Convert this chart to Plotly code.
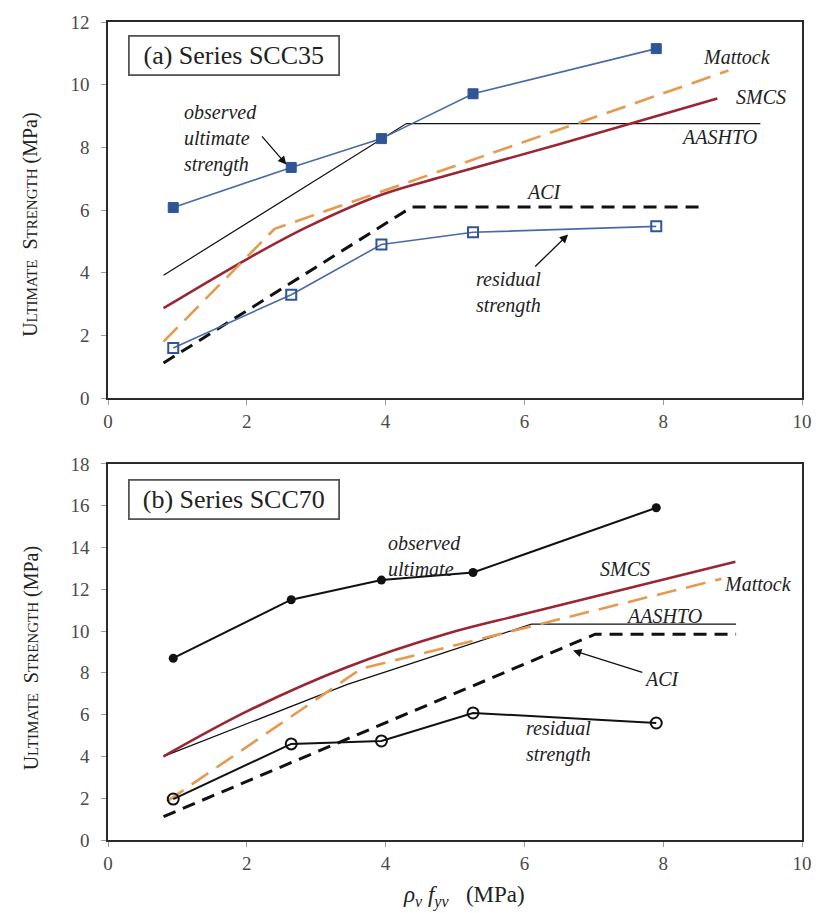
import plotly.graph_objects as go

# ---- specimen data (rho_v * f_yv in MPa, strengths in MPa) ----
rho_fy = [0.94, 2.64, 3.94, 5.26, 7.9]

scc35_ultimate = [6.08, 7.36, 8.28, 9.71, 11.15]
scc35_residual = [1.6, 3.3, 4.9, 5.29, 5.48]

scc70_ultimate = [8.7, 11.5, 12.44, 12.8, 15.9]
scc70_residual = [1.96, 4.6, 4.74, 6.08, 5.6]

# ---- design / model predictions ----
scc35_aashto_x = [0.8, 4.3, 9.4]
scc35_aashto_y = [3.92, 8.76, 8.76]
scc35_aci_x = [0.8, 4.38, 8.55]
scc35_aci_y = [1.12, 6.1, 6.1]
scc35_mattock_x = [0.8, 2.4, 8.94]
scc35_mattock_y = [1.8, 5.4, 10.45]
scc35_smcs_x = [0.8, 2.03, 2.88, 3.93, 4.88, 6.5, 8.78]
scc35_smcs_y = [2.87, 4.47, 5.47, 6.48, 7.1, 8.1, 9.56]

scc70_aashto_x = [0.8, 2.03, 3.45, 4.88, 6.1, 9.05]
scc70_aashto_y = [4.0, 5.6, 7.45, 9.0, 10.33, 10.33]
scc70_aci_x = [0.8, 7.02, 9.05]
scc70_aci_y = [1.12, 9.85, 9.85]
scc70_mattock_x = [0.85, 3.65, 8.84]
scc70_mattock_y = [1.85, 8.2, 12.5]
scc70_smcs_x = [0.8, 2.03, 3.45, 4.88, 6.04, 9.04]
scc70_smcs_y = [4.0, 6.2, 8.28, 9.87, 10.85, 13.32]

x_ticks = [0, 2, 4, 6, 8, 10]
y_ticks_a = [0, 2, 4, 6, 8, 10, 12]
y_ticks_b = [0, 2, 4, 6, 8, 10, 12, 14, 16, 18]

SERIF = "Liberation Serif, Times New Roman, serif"
BLUE_LINE = "#4a6aa6"
BLUE_MARK = "#2f5597"
RED = "#9a2634"
ORANGE = "#e59a50"

fig = go.Figure()


def add_line(x, y, ax, color, width, dash="solid", shape="linear"):
    fig.add_trace(go.Scatter(
        x=x, y=y, mode="lines", xaxis=ax[0], yaxis=ax[1],
        line=dict(color=color, width=width, dash=dash, shape=shape),
        showlegend=False, hoverinfo="skip"))


# panel (a)
A = ("x", "y")
add_line(scc35_aashto_x, scc35_aashto_y, A, "#111111", 1.2)
add_line(scc35_aci_x, scc35_aci_y, A, "#111111", 3, dash="13px,8px")
add_line(scc35_smcs_x, scc35_smcs_y, A, RED, 2.6, shape="spline")
add_line(scc35_mattock_x, scc35_mattock_y, A, ORANGE, 2.6, dash="20px,10px")
fig.add_trace(go.Scatter(
    x=rho_fy, y=scc35_ultimate, mode="lines+markers", xaxis="x", yaxis="y",
    line=dict(color=BLUE_LINE, width=1.6),
    marker=dict(symbol="square", size=10, color=BLUE_MARK,
                line=dict(color=BLUE_MARK, width=1)),
    showlegend=False))
fig.add_trace(go.Scatter(
    x=rho_fy, y=scc35_residual, mode="lines+markers", xaxis="x", yaxis="y",
    line=dict(color=BLUE_LINE, width=1.6),
    marker=dict(symbol="square-open", size=10, color=BLUE_MARK,
                line=dict(color=BLUE_MARK, width=2)),
    showlegend=False))

# panel (b)
B = ("x2", "y2")
add_line(scc70_aashto_x, scc70_aashto_y, B, "#111111", 1.3)
add_line(scc70_aci_x, scc70_aci_y, B, "#111111", 3, dash="13px,8px")
add_line(scc70_smcs_x, scc70_smcs_y, B, RED, 2.6, shape="spline")
add_line(scc70_mattock_x, scc70_mattock_y, B, ORANGE, 2.6, dash="20px,10px")
fig.add_trace(go.Scatter(
    x=rho_fy, y=scc70_ultimate, mode="lines+markers", xaxis="x2", yaxis="y2",
    line=dict(color="#111111", width=2),
    marker=dict(symbol="circle", size=9, color="#111111"),
    showlegend=False))
fig.add_trace(go.Scatter(
    x=rho_fy, y=scc70_residual, mode="lines+markers", xaxis="x2", yaxis="y2",
    line=dict(color="#111111", width=2),
    marker=dict(symbol="circle-open", size=11, color="#111111",
                line=dict(color="#111111", width=2)),
    showlegend=False))

axis_common = dict(
    showgrid=False, zeroline=False, showline=True, mirror=True,
    linecolor="#2a2a2a", linewidth=1.6, ticks="outside", ticklen=5,
    tickcolor="#9a9a9a", tickwidth=1,
    tickfont=dict(family=SERIF, size=19, color="#4a4a4a"))

fig.update_layout(
    width=824, height=913,
    margin=dict(l=108, r=14, t=20, b=73),
    paper_bgcolor="white", plot_bgcolor="white",
    xaxis=dict(domain=[0, 1], anchor="y", range=[0, 10],
               tickvals=x_ticks, **axis_common),
    yaxis=dict(domain=[0.5402, 1], anchor="x", range=[0, 12],
               tickvals=y_ticks_a, ticklabelstandoff=8, **axis_common),
    xaxis2=dict(domain=[0, 1], anchor="y2", range=[0, 10],
                tickvals=x_ticks, **axis_common),
    yaxis2=dict(domain=[0, 0.4598], anchor="x2", range=[0, 18],
                tickvals=y_ticks_b, ticklabelstandoff=8, **axis_common),
)

ann = []
ITAL = dict(family=SERIF, size=20, color="#222222")


def label(text, x, y, xref, yref):
    ann.append(dict(text="<i>%s</i>" % text, x=x, y=y, xref=xref, yref=yref,
                    xanchor="left", yanchor="middle", align="left",
                    showarrow=False, font=ITAL))


def pointer(text, tip_x, tip_y, text_x, text_y, xref, yref):
    # text centred at (text_x, text_y) with an arrow running to the tip
    ann.append(dict(text="<i>%s</i>" % text, x=tip_x, y=tip_y,
                    ax=text_x, ay=text_y, xref=xref, yref=yref,
                    axref=xref, ayref=yref, xanchor="center",
                    yanchor="middle", align="left", font=ITAL,
                    showarrow=True, arrowhead=2, arrowsize=1.3,
                    arrowwidth=1.3, arrowcolor="#111111"))


# panel titles in boxes
for txt, xr, yr, yv in [("(a) Series SCC35", "x", "y", 10.92),
                        ("(b) Series SCC70", "x2", "y2", 16.28)]:
    ann.append(dict(text=txt, x=1.82, y=yv, xref=xr, yref=yr,
                    xanchor="center", yanchor="middle", showarrow=False,
                    font=dict(family=SERIF, size=26, color="#222222"),
                    bordercolor="#555555", borderwidth=1.8, borderpad=4,
                    width=200, bgcolor="white"))

# panel (a) labels
label("observed<br>ultimate<br>strength", 1.06, 8.27, "x", "y")
ann.append(dict(text="", x=2.57, y=7.45, ax=2.2, ay=8.4, xref="x", yref="y",
                axref="x", ayref="y", showarrow=True, arrowhead=2,
                arrowsize=1.3, arrowwidth=1.3, arrowcolor="#111111"))
label("Mattock", 8.55, 10.88, "x", "y")
label("SMCS", 9.02, 9.61, "x", "y")
label("AASHTO", 8.23, 8.34, "x", "y")
label("ACI", 5.99, 6.59, "x", "y")
pointer("residual<br>strength", 6.63, 5.22, 5.77, 3.37, "x", "y")

# panel (b) labels
label("observed<br>ultimate", 4.0, 13.6, "x2", "y2")
label("SMCS", 7.06, 12.97, "x2", "y2")
label("Mattock", 8.84, 12.26, "x2", "y2")
label("AASHTO", 7.44, 10.74, "x2", "y2")
pointer("ACI", 6.7, 9.07, 7.98, 7.72, "x2", "y2")
label("residual<br>strength", 5.99, 4.73, "x2", "y2")

# y-axis titles in small capitals
ytitle = ("U<span style='font-size:15px'>LTIMATE</span>&nbsp; "
          "S<span style='font-size:15px'>TRENGTH</span> (MPa)")
for yp in (0.752, 0.222):
    ann.append(dict(text=ytitle, x=-0.111, y=yp, xref="paper", yref="paper",
                    xanchor="center", yanchor="middle", textangle=-90,
                    showarrow=False,
                    font=dict(family=SERIF, size=20, color="#222222")))

# x-axis title
ann.append(dict(text="<i>\u03c1<sub>v</sub> f<sub>yv</sub></i>&nbsp;&nbsp;&nbsp;(MPa)",
                x=0.513, y=-0.069, xref="paper", yref="paper",
                xanchor="center", yanchor="middle", showarrow=False,
                font=dict(family=SERIF, size=23, color="#222222")))

fig.update_layout(annotations=ann)
fig.write_html("out.html")
